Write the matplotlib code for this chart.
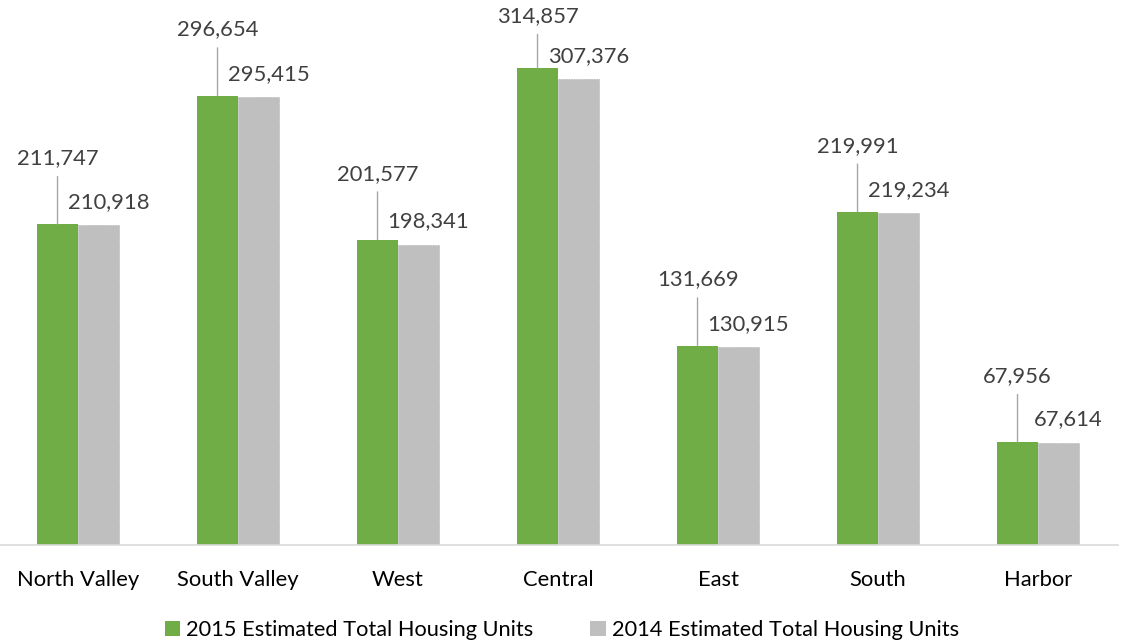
import matplotlib
matplotlib.use("Agg")
import matplotlib.pyplot as plt
import numpy as np
from matplotlib.patches import Patch

categories = ["North Valley", "South Valley", "West", "Central", "East", "South", "Harbor"]
units_2015 = [211747, 296654, 201577, 314857, 131669, 219991, 67956]
units_2014 = [210918, 295415, 198341, 307376, 130915, 219234, 67614]
series_names = ["2015 Estimated Total Housing Units", "2014 Estimated Total Housing Units"]

GREEN = "#70AD47"
GRAY = "#BFBFBF"
LABEL = "#404040"

plt.rcParams['font.family'] = ['Lato', 'DejaVu Sans']

W, H = 1122, 643
fig = plt.figure(figsize=(W / 100, H / 100), dpi=100)
ymax = 350000
scale = 0.001515  # px per unit
ax_h_px = ymax * scale
ax = fig.add_axes([-2 / W, (H - 545) / H, 1120 / W, ax_h_px / H])
ax.set_xlim(-0.5, len(categories) - 0.5)
ax.set_ylim(0, ymax)

x = np.arange(len(categories))
bw = 0.256
ax.bar(x - bw / 2, units_2015, width=bw, color=GREEN, edgecolor="none", zorder=2)
ax.bar(x + bw / 2, units_2014, width=bw, color=GRAY, edgecolor="#B0B0B0", linewidth=0.6,
       linestyle=(0, (1, 1)), zorder=2)

for s in ["top", "right", "left"]:
    ax.spines[s].set_visible(False)
ax.spines["bottom"].set_color("#D9D9D9")
ax.spines["bottom"].set_linewidth(1.2)
ax.set_yticks([])
ax.set_xticks(x)
ax.set_xticklabels(categories, fontsize=15.8, color="black")
ax.tick_params(axis="x", length=0, pad=18)

px_per_pt = 100 / 72
top_limit_px = 16
for i, (v15, v14) in enumerate(zip(units_2015, units_2014)):
    bar_top_px = 545 - v15 * scale
    label_px = max(bar_top_px - 66, top_limit_px)
    dy = (bar_top_px - label_px) / px_per_pt
    ax.annotate(f"{v15:,}", xy=(x[i] - bw / 2, v15), xytext=(0, dy),
                textcoords="offset points", ha="center", va="center",
                fontsize=15.8, color=LABEL,
                arrowprops=dict(arrowstyle="-", color="#A6A6A6", lw=1,
                                shrinkA=4, shrinkB=0))
    ax.annotate(f"{v14:,}", xy=(x[i] + bw / 2, v14), xytext=(10 / px_per_pt, 23 / px_per_pt),
                textcoords="offset points", ha="center", va="center",
                fontsize=15.8, color=LABEL)

handles = [Patch(facecolor=GREEN, edgecolor="none"), Patch(facecolor=GRAY, edgecolor="none")]
fig.legend(handles, series_names, loc="center", bbox_to_anchor=(562 / W, 1 - 630 / H),
           ncol=2, frameon=False, fontsize=15.7, handlelength=0.7, handleheight=0.7,
           handletextpad=0.3, columnspacing=2.6)

fig.savefig("out.png", dpi=100)
